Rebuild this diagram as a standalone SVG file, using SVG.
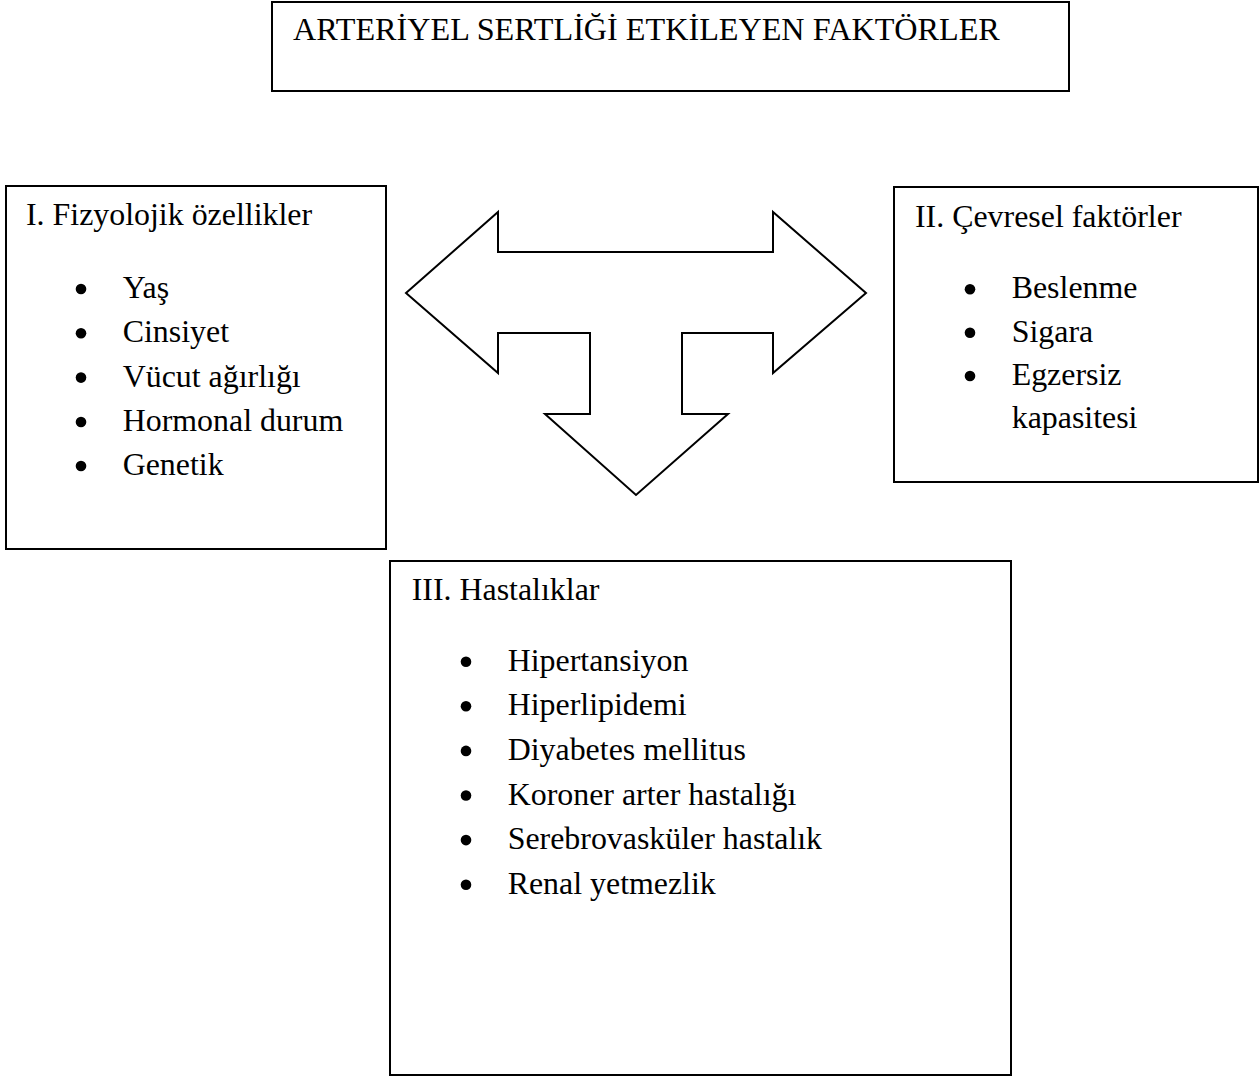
<svg xmlns="http://www.w3.org/2000/svg" width="1260" height="1077" viewBox="0 0 1260 1077">
<style>
.box{fill:#fff;stroke:#000;stroke-width:2}
.t{font-family:"Liberation Serif","Times New Roman",serif;font-size:31.9px;fill:#000}
.h{font-size:32.2px}
.b{fill:#000}
</style>
<rect width="1260" height="1077" fill="#fff"/>
<g id="title">
<rect class="box" x="272" y="2" width="797" height="89"/>
<text class="t h" x="293" y="39.5">ARTERİYEL SERTLİĞİ ETKİLEYEN FAKTÖRLER</text>
</g>
<g id="connectors">
<polygon class="box" points="406,293 498,212 498,252 773,252 773,212 866,293 773,373 773,333 682,333 682,414 728,414 636,495 545,414 590,414 590,333 498,333 498,373"/>
</g>
<g id="fizyolojik">
<rect class="box" x="6" y="186" width="380" height="363"/>
<text class="t" x="26" y="225">I. Fizyolojik özellikler</text>
<circle class="b" cx="81" cy="289" r="5.3"/><text class="t" x="122.7" y="298">Yaş</text>
<circle class="b" cx="81" cy="333.3" r="5.3"/><text class="t" x="122.7" y="342.3">Cinsiyet</text>
<circle class="b" cx="81" cy="377.6" r="5.3"/><text class="t" x="122.7" y="386.6">Vücut ağırlığı</text>
<circle class="b" cx="81" cy="422" r="5.3"/><text class="t" x="122.7" y="431">Hormonal durum</text>
<circle class="b" cx="81" cy="466" r="5.3"/><text class="t" x="122.7" y="475">Genetik</text>
</g>
<g id="cevresel">
<rect class="box" x="894" y="187" width="364" height="295"/>
<text class="t" x="915" y="226.5">II. Çevresel faktörler</text>
<circle class="b" cx="970" cy="289.3" r="5.3"/><text class="t" x="1011.7" y="298.3">Beslenme</text>
<circle class="b" cx="970" cy="332.7" r="5.3"/><text class="t" x="1011.7" y="341.7">Sigara</text>
<circle class="b" cx="970" cy="376" r="5.3"/><text class="t" x="1011.7" y="385">Egzersiz</text>
<text class="t" x="1011.7" y="428.3">kapasitesi</text>
</g>
<g id="hastaliklar">
<rect class="box" x="390" y="561" width="621" height="514"/>
<text class="t" x="411.7" y="600">III. Hastalıklar</text>
<circle class="b" cx="466" cy="661.7" r="5.3"/><text class="t" x="507.7" y="670.7">Hipertansiyon</text>
<circle class="b" cx="466" cy="706.3" r="5.3"/><text class="t" x="507.7" y="715.3">Hiperlipidemi</text>
<circle class="b" cx="466" cy="750.9" r="5.3"/><text class="t" x="507.7" y="759.9">Diyabetes mellitus</text>
<circle class="b" cx="466" cy="795.5" r="5.3"/><text class="t" x="507.7" y="804.5">Koroner arter hastalığı</text>
<circle class="b" cx="466" cy="840.1" r="5.3"/><text class="t" x="507.7" y="849.1">Serebrovasküler hastalık</text>
<circle class="b" cx="466" cy="884.7" r="5.3"/><text class="t" x="507.7" y="893.7">Renal yetmezlik</text>
</g>
</svg>
